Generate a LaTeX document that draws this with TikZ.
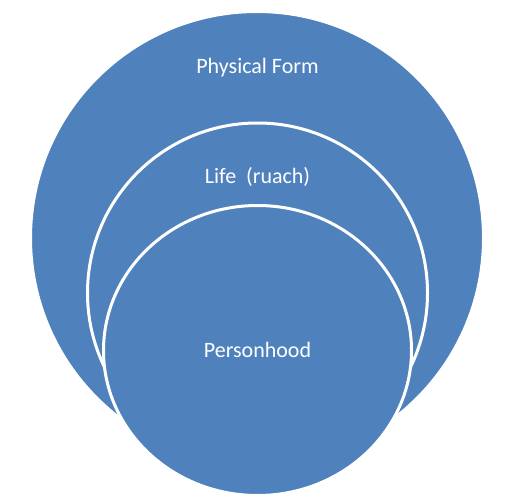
\documentclass[tikz,border=0pt]{standalone}
\usepackage{fontspec}
\setmainfont{Carlito}
\definecolor{officeblue}{HTML}{4F81BD}

\begin{document}
\begin{tikzpicture}[x = 1pt, y = 1pt,
	disc/.style = {fill = officeblue, draw = white, line width = 3pt},
	label/.style = {text = white, anchor = base, font = \fontsize{22}{26}\selectfont}]

	\useasboundingbox (0, 0) rectangle (508, 501);

	% Nested discs

	\draw [disc] (257, 263) circle (226.5);
	\draw [disc] (257.5, 208) circle (170);
	\draw [disc] (257.5, 150.5) ellipse (154 and 145);

	% Labels

	\node [label] (form) at (257.5, 427) {Physical Form};
	\node [label] (life) at (257.5, 317) {Life~~(ruach)};
	\node [label] (person) at (257.5, 144) {Personhood};

\end{tikzpicture}
\end{document}
